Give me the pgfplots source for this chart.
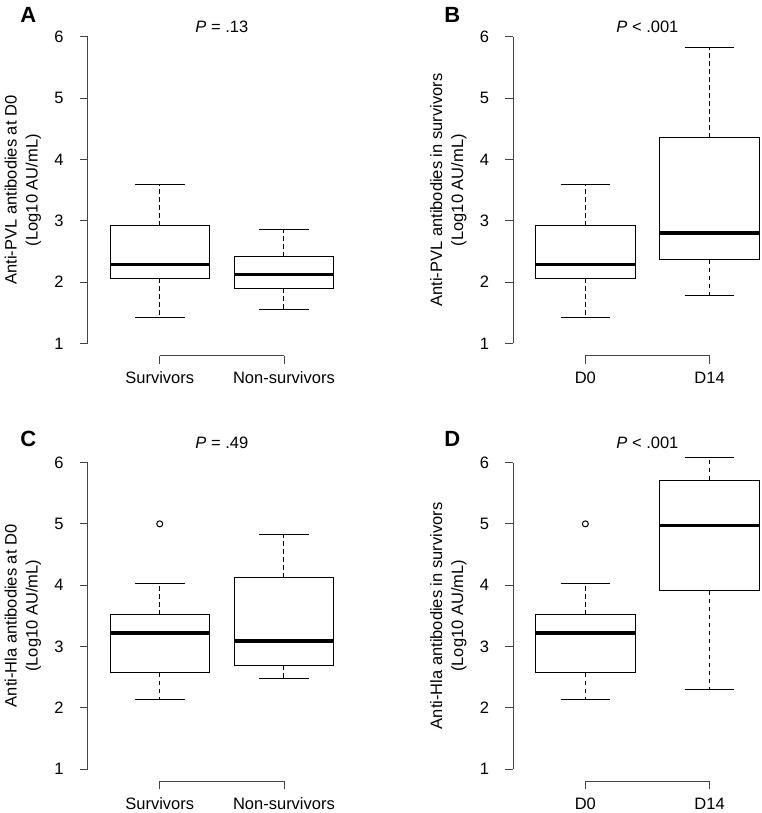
\documentclass[border=0pt]{standalone}
\usepackage{fontspec}
\setmainfont{Liberation Sans}
\usepackage{pgfplots}
\pgfplotsset{compat=1.18}
\usepgfplotslibrary{statistics}

\definecolor{axgray}{HTML}{444444}
\newcommand{\rfont}{\fontsize{16.5}{20}\selectfont}
\newcommand{\pfont}{\fontsize{22}{26}\selectfont\bfseries}

\pgfplotsset{
  rbox/.style={
    scale only axis, width=268.3pt, height=331pt,
    xmin=0.42, xmax=2.58, ymin=0.8, ymax=6.2,
    clip=false,
    axis x line*=bottom, axis y line*=left,
    axis line style={draw=none},
    xtick={1,2}, ytick={1,2,3,4,5,6},
    tick align=outside, major tick length=8pt,
    tick style={axgray, line width=0.8pt},
    /pgf/number format/assume math mode=true,
    tick label style={font=\rfont},
    yticklabel style={anchor=east, inner sep=0pt, xshift=-16pt},
    xticklabel style={anchor=base, inner sep=0pt, yshift=-20pt},
    every axis y label/.style={at={(axis description cs:-0.242,0.5)}, rotate=90,
      anchor=center, align=center, font=\fontsize{16.5}{21}\selectfont},
    every axis title/.style={at={(axis description cs:0.5,1)}, anchor=base, font=\rfont},
    boxplot/draw direction=y,
    boxplot/box extend=0.8,
    boxplot/whisker extend=0.4,
    boxplot/draw/median/.code={
      \draw[line width=3.2pt]
        (boxplot box cs:\pgfplotsboxplotvalue{median},0) --
        (boxplot box cs:\pgfplotsboxplotvalue{median},1);
    },
    boxplot/draw/lower whisker/.code={
      \draw[dash pattern=on 4.5pt off 3.5pt]
        (boxplot box cs:\pgfplotsboxplotvalue{lower quartile},0.5) --
        (boxplot box cs:\pgfplotsboxplotvalue{lower whisker},0.5);
      \draw (boxplot whisker cs:\pgfplotsboxplotvalue{lower whisker},0) --
        (boxplot whisker cs:\pgfplotsboxplotvalue{lower whisker},1);
    },
    boxplot/draw/upper whisker/.code={
      \draw[dash pattern=on 4.5pt off 3.5pt]
        (boxplot box cs:\pgfplotsboxplotvalue{upper quartile},0.5) --
        (boxplot box cs:\pgfplotsboxplotvalue{upper whisker},0.5);
      \draw (boxplot whisker cs:\pgfplotsboxplotvalue{upper whisker},0) --
        (boxplot whisker cs:\pgfplotsboxplotvalue{upper whisker},1);
    },
  },
  bx/.style={black, line width=1pt, mark=o, mark size=3pt},
}

\newcommand{\raxes}{%
  \draw[axgray, line width=0.8pt] (axis cs:0.42,1) -- (axis cs:0.42,6);
  \draw[axgray, line width=0.8pt] (axis cs:1,0.8) -- (axis cs:2,0.8);
}

\begin{document}
\begin{tikzpicture}
\useasboundingbox (0pt,0pt) rectangle (762pt,813pt);

% A
\begin{axis}[rbox, at={(87.7pt,457.4pt)}, anchor=south west,
  title={\textit{P} = .13}, title style={yshift=-7.9pt},
  ylabel={Anti-PVL antibodies at D0\\(Log10 AU/mL)},
  xticklabels={Survivors, Non-survivors}]
  \addplot[bx, boxplot prepared={draw position=1, lower whisker=1.42,
    lower quartile=2.06, median=2.28, upper quartile=2.92, upper whisker=3.59}]
    coordinates {};
  \addplot[bx, boxplot prepared={draw position=2, lower whisker=1.56,
    lower quartile=1.90, median=2.12, upper quartile=2.41, upper whisker=2.85}]
    coordinates {};
  \raxes
\end{axis}

% B
\begin{axis}[rbox, at={(513.3pt,457.4pt)}, anchor=south west,
  title={\textit{P} < .001}, title style={yshift=-7.9pt},
  ylabel={Anti-PVL antibodies in survivors\\(Log10 AU/mL)},
  xticklabels={D0, D14}]
  \addplot[bx, boxplot prepared={draw position=1, lower whisker=1.42,
    lower quartile=2.06, median=2.28, upper quartile=2.92, upper whisker=3.59}]
    coordinates {};
  \addplot[bx, boxplot prepared={draw position=2, lower whisker=1.78,
    lower quartile=2.36, median=2.80, upper quartile=4.35, upper whisker=5.82}]
    coordinates {};
  \raxes
\end{axis}

% C
\begin{axis}[rbox, at={(87.7pt,31.7pt)}, anchor=south west,
  title={\textit{P} = .49}, title style={yshift=1.4pt},
  ylabel={Anti-Hla antibodies at D0\\(Log10 AU/mL)},
  xticklabels={Survivors, Non-survivors}]
  \addplot[bx, boxplot prepared={draw position=1, lower whisker=2.13,
    lower quartile=2.57, median=3.22, upper quartile=3.52, upper whisker=4.02}]
    coordinates {(1,5.00)};
  \addplot[bx, boxplot prepared={draw position=2, lower whisker=2.48,
    lower quartile=2.69, median=3.09, upper quartile=4.12, upper whisker=4.82}]
    coordinates {};
  \raxes
\end{axis}

% D
\begin{axis}[rbox, at={(513.3pt,31.7pt)}, anchor=south west,
  title={\textit{P} < .001}, title style={yshift=1.4pt},
  ylabel={Anti-Hla antibodies in survivors\\(Log10 AU/mL)},
  xticklabels={D0, D14}]
  \addplot[bx, boxplot prepared={draw position=1, lower whisker=2.13,
    lower quartile=2.57, median=3.22, upper quartile=3.52, upper whisker=4.02}]
    coordinates {(1,5.00)};
  \addplot[bx, boxplot prepared={draw position=2, lower whisker=2.29,
    lower quartile=3.91, median=4.97, upper quartile=5.71, upper whisker=6.08}]
    coordinates {};
  \raxes
\end{axis}

\node[anchor=center, inner sep=0pt, font=\pfont] at (28.3pt,798.5pt) {A};
\node[anchor=center, inner sep=0pt, font=\pfont] at (452.2pt,798.5pt) {B};
\node[anchor=center, inner sep=0pt, font=\pfont] at (28.3pt,374.1pt) {C};
\node[anchor=center, inner sep=0pt, font=\pfont] at (452.2pt,374.1pt) {D};
\end{tikzpicture}
\end{document}
